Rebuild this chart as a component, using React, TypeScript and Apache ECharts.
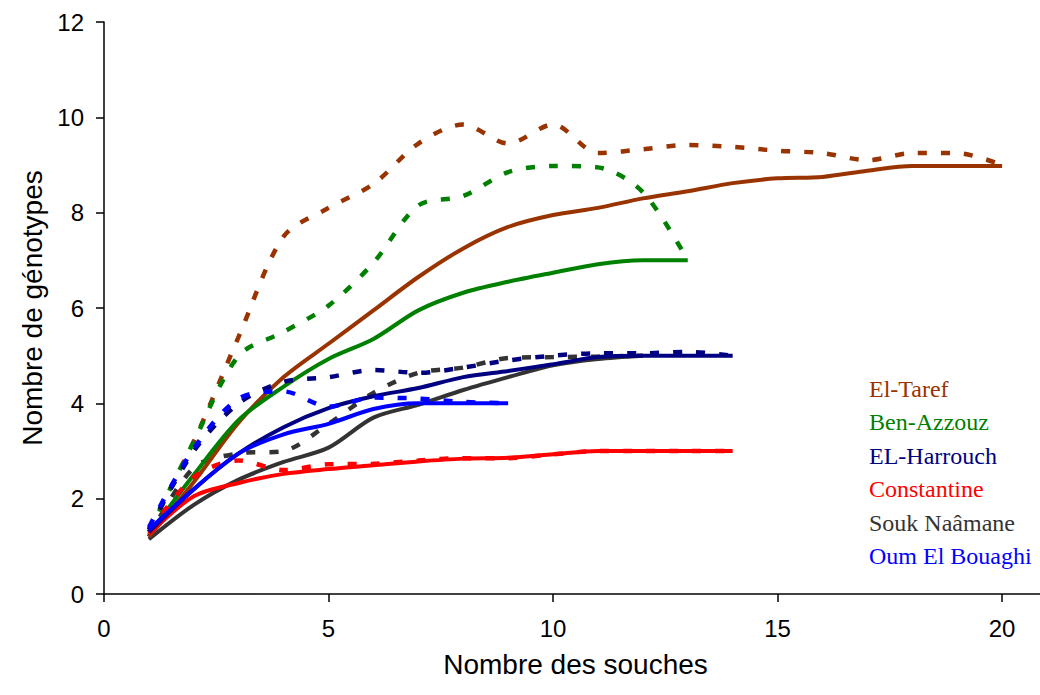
import React, { useEffect, useRef } from "react";
import * as echarts from "echarts";

// Regions (legend order) and colours
const regions = ["El-Taref", "Ben-Azzouz", "EL-Harrouch", "Constantine", "Souk Naâmane", "Oum El Bouaghi"];
const colors = ["#993300", "#008000", "#000080", "#FF0000", "#333333", "#0000FF"];

// Number of strains (x) per region
const souchesElTaref = [1, 2, 3, 4, 5, 6, 7, 8, 9, 10, 11, 12, 13, 14, 15, 16, 17, 18, 19, 20];
const souchesBenAzzouz = [1, 2, 3, 4, 5, 6, 7, 8, 9, 10, 11, 12, 13];
const souchesElHarrouch = [1, 2, 3, 4, 5, 6, 7, 8, 9, 10, 11, 12, 13, 14];
const souchesConstantine = [1, 2, 3, 4, 5, 6, 7, 8, 9, 10, 11, 12, 13, 14];
const souchesSouk = [1, 2, 3, 4, 5, 6, 7, 8, 9, 10, 11, 12];
const souchesOum = [1, 2, 3, 4, 5, 6, 7, 8, 9];

// Solid curves
const elTarefSolid = [1.2, 2.35, 3.6, 4.55, 5.25, 5.95, 6.65, 7.25, 7.7, 7.95, 8.1, 8.3, 8.45, 8.62, 8.72, 8.75, 8.88, 8.98, 8.98, 8.98];
const benAzzouzSolid = [1.25, 2.5, 3.65, 4.35, 4.93, 5.35, 5.95, 6.32, 6.55, 6.74, 6.92, 7.0, 7.0];
const elHarrouchSolid = [1.3, 2.2, 2.95, 3.5, 3.9, 4.15, 4.32, 4.55, 4.68, 4.82, 4.97, 5.0, 5.0, 5.0];
const constantineSolid = [1.25, 2.05, 2.33, 2.52, 2.62, 2.7, 2.78, 2.84, 2.86, 2.93, 3.0, 3.0, 3.0, 3.0];
const soukSolid = [1.15, 1.87, 2.4, 2.77, 3.07, 3.7, 3.97, 4.28, 4.55, 4.8, 4.93, 5.0];
const oumSolid = [1.35, 2.2, 2.95, 3.35, 3.57, 3.88, 4.0, 4.0, 4.0];

// Dashed curves
const elTarefDashed = [1.35, 3.2, 5.4, 7.5, 8.1, 8.6, 9.45, 9.85, 9.45, 9.85, 9.25, 9.33, 9.42, 9.38, 9.3, 9.25, 9.1, 9.25, 9.25, 9.0];
const benAzzouzDashed = [1.3, 3.2, 5.0, 5.5, 6.05, 6.95, 8.15, 8.35, 8.85, 8.98, 8.95, 8.43, 7.0];
const elHarrouchDashed = [1.35, 3.0, 4.0, 4.45, 4.55, 4.7, 4.64, 4.75, 4.9, 5.0, 5.05, 5.05, 5.08, 5.0];
const constantineDashed = [1.3, 2.45, 2.8, 2.6, 2.72, 2.73, 2.8, 2.85, 2.85, 2.93, 3.0, 3.0, 3.0, 3.0];
const soukDashed = [1.2, 2.65, 2.95, 3.0, 3.57, 4.22, 4.64, 4.75, 4.95, 4.97, 4.98, 5.0];
const oumDashed = [1.4, 3.05, 4.1, 4.25, 3.93, 4.12, 4.1, 4.03, 4.0];

const xTicks = { min: 0, max: 21, interval: 5 };
const yTicks = { min: 0, max: 12, interval: 2 };

const xs = [souchesElTaref, souchesBenAzzouz, souchesElHarrouch, souchesConstantine, souchesSouk, souchesOum];
const solids = [elTarefSolid, benAzzouzSolid, elHarrouchSolid, constantineSolid, soukSolid, oumSolid];
const dashes = [elTarefDashed, benAzzouzDashed, elHarrouchDashed, constantineDashed, soukDashed, oumDashed];

// drawing order (bottom first)
const drawOrder = [4, 0, 1, 3, 2, 5];

export default function App() {
  const ref = useRef<HTMLDivElement>(null);
  useEffect(() => {
    if (!ref.current) return;
    const chart = echarts.init(ref.current, null, { renderer: "svg" });
    const series: any[] = [];
    drawOrder.forEach((i) => {
      const mk = (vals: number[], dashed: boolean) => ({
        type: "line",
        name: regions[i] + (dashed ? " (2)" : ""),
        data: xs[i].map((x, k) => [x, vals[k]]),
        smooth: 0.3,
        showSymbol: false,
        symbol: "none",
        lineStyle: {
          color: colors[i],
          width: dashed ? 4.5 : 4,
          type: dashed ? [9, 14] : "solid",
          cap: "butt",
        },
        itemStyle: { color: colors[i] },
        z: 2,
      });
      series.push(mk(dashes[i], true));
      series.push(mk(solids[i], false));
    });
    chart.setOption({
      animation: false,
      backgroundColor: "#ffffff",
      grid: { left: 104, top: 22, bottom: 101, right: 0 },
      xAxis: {
        type: "value",
        min: xTicks.min,
        max: xTicks.max,
        interval: xTicks.interval,
        name: "Nombre des souches",
        nameLocation: "middle",
        nameGap: 56,
        nameTextStyle: { fontFamily: "Liberation Sans, Arial", fontSize: 28, color: "#000" },
        axisLine: { lineStyle: { color: "#000", width: 1.5 } },
        axisTick: { length: 8, lineStyle: { color: "#000", width: 1.5 } },
        axisLabel: { fontFamily: "Liberation Sans, Arial", fontSize: 24, color: "#000", margin: 22, showMaxLabel: false },
        splitLine: { show: false },
      },
      yAxis: {
        type: "value",
        min: yTicks.min,
        max: yTicks.max,
        interval: yTicks.interval,
        name: "Nombre de génotypes",
        nameLocation: "middle",
        nameGap: 58,
        nameTextStyle: { fontFamily: "Liberation Sans, Arial", fontSize: 28, color: "#000" },
        axisLine: { lineStyle: { color: "#000", width: 1.5 } },
        axisTick: { length: 8, lineStyle: { color: "#000", width: 1.5 } },
        axisLabel: { fontFamily: "Liberation Sans, Arial", fontSize: 24, color: "#000", margin: 20 },
        splitLine: { show: false },
      },
      graphic: regions.map((r, i) => ({
        type: "text",
        left: 869,
        top: 377 + 33.4 * i,
        style: {
          text: r,
          fill: colors[i],
          font: "24px 'Liberation Serif', 'Times New Roman', serif",
        },
      })),
      series,
    });
    return () => chart.dispose();
  }, []);
  return (
    <div style={{ position: "absolute", left: 0, top: 0, width: 1040, height: 695, overflow: "hidden" }}>
      <div ref={ref} style={{ position: "absolute", left: 0, top: 0, width: 1047, height: 695 }} />
    </div>
  );
}
